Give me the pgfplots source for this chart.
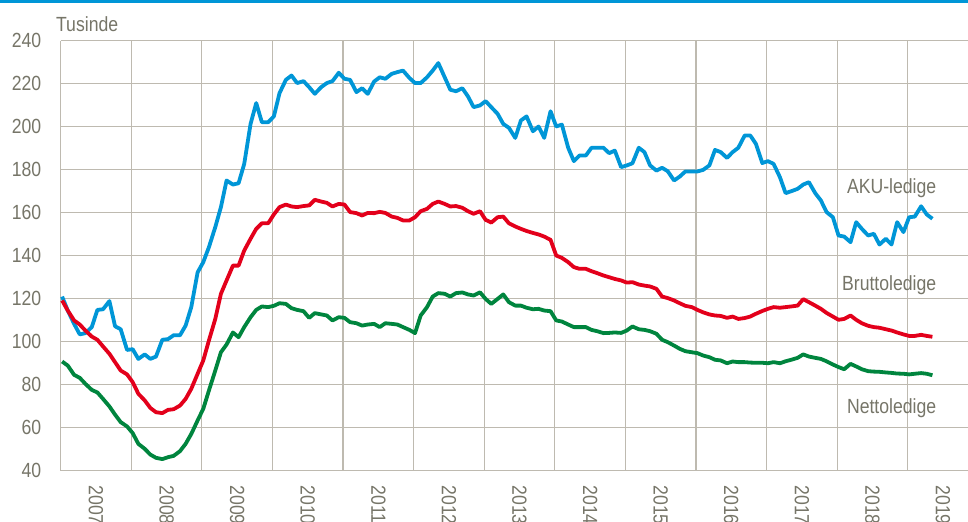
\documentclass[border=0pt]{standalone}
\usepackage{fontspec}
\setmainfont{Liberation Sans}[FakeStretch=0.86]
\usepackage{pgfplots}
\pgfplotsset{compat=1.18}
\usepackage{pgfplotstable}
\definecolor{akublue}{RGB}{0,150,215}
\definecolor{bruttored}{RGB}{227,0,27}
\definecolor{nettogreen}{RGB}{0,133,62}
\definecolor{gridgray}{RGB}{190,186,176}
\definecolor{txtgray}{RGB}{118,117,104}
\pgfplotstableread{
x aku brutto netto
2007.02 120.9 119.1 90.7
2007.10 114.4 114.4 88.8
2007.19 108.2 109.8 84.5
2007.27 103.3 107.9 83.1
2007.35 103.9 105.1 80.3
2007.44 106.7 102.3 77.5
2007.52 114.7 100.8 76.3
2007.60 115.0 97.7 73.3
2007.69 118.8 94.3 69.8
2007.77 107.1 90.4 66.0
2007.85 105.7 86.5 62.5
2007.94 96.1 84.7 60.5
2008.02 96.4 81.1 57.4
2008.10 91.9 75.7 52.4
2008.19 94.0 72.6 50.1
2008.27 91.9 69.1 47.4
2008.35 93.0 67.1 45.9
2008.44 100.8 66.7 45.3
2008.52 101.1 68.2 46.2
2008.60 102.9 68.5 46.8
2008.69 102.9 70.2 49.0
2008.77 107.4 73.3 52.4
2008.85 116.0 78.0 57.0
2008.94 132.2 85.0 63.3
2009.02 136.9 91.2 68.7
2009.10 143.9 100.5 77.2
2009.19 153.2 110.5 86.5
2009.27 162.5 122.2 95.0
2009.35 174.9 128.4 98.6
2009.44 173.0 135.3 104.2
2009.52 173.6 135.3 102.0
2009.60 182.6 142.3 106.7
2009.69 201.2 147.8 111.3
2009.77 210.9 152.4 114.7
2009.85 202.0 155.0 116.3
2009.94 202.0 155.0 116.0
2010.02 204.7 159.1 116.6
2010.10 215.5 162.5 117.8
2010.19 221.7 163.7 117.5
2010.27 223.7 162.8 115.5
2010.35 220.2 162.5 114.7
2010.44 221.1 163.0 114.1
2010.52 218.3 163.3 111.0
2010.60 215.2 165.9 113.2
2010.69 218.3 165.1 112.6
2010.77 220.2 164.5 112.1
2010.85 221.1 162.8 109.8
2010.94 225.0 164.0 111.3
2011.02 222.2 163.7 111.0
2011.10 221.7 160.2 109.0
2011.19 216.0 159.7 108.5
2011.27 217.8 158.6 107.4
2011.35 215.2 159.8 107.9
2011.44 220.9 159.7 108.2
2011.52 222.9 160.3 106.7
2011.60 222.2 159.8 108.5
2011.69 224.5 158.1 108.2
2011.77 225.3 157.5 107.9
2011.85 226.0 156.3 106.7
2011.94 222.6 156.3 105.4
2012.02 220.2 157.8 103.9
2012.10 220.2 160.6 112.1
2012.19 222.9 161.7 116.0
2012.27 226.0 164.0 120.9
2012.35 229.5 165.1 122.5
2012.44 222.9 164.0 122.2
2012.52 217.1 162.8 120.9
2012.60 216.4 163.0 122.5
2012.69 217.8 162.2 122.8
2012.77 214.0 160.6 121.9
2012.85 209.0 159.4 121.4
2012.94 209.8 160.6 122.9
2013.02 211.8 156.6 119.8
2013.10 209.0 155.3 117.5
2013.19 205.9 157.8 119.8
2013.27 201.2 158.1 121.9
2013.35 199.4 155.0 118.3
2013.44 194.7 153.5 116.7
2013.52 202.8 152.4 116.7
2013.60 204.7 151.4 115.7
2013.69 197.8 150.5 115.0
2013.77 200.0 149.8 115.2
2013.85 194.7 148.8 114.4
2013.94 207.1 147.3 114.1
2014.02 200.0 140.0 109.8
2014.10 200.9 138.9 109.3
2014.19 190.1 136.9 107.9
2014.27 183.9 134.6 106.7
2014.35 186.5 133.8 106.7
2014.44 186.5 133.8 106.7
2014.52 190.1 132.7 105.4
2014.60 190.1 131.8 104.8
2014.69 190.1 130.7 103.9
2014.77 187.6 129.9 104.0
2014.85 188.8 129.1 104.2
2014.94 181.1 128.4 104.0
2015.02 181.9 127.4 105.1
2015.10 182.9 127.6 107.0
2015.19 190.1 126.5 105.7
2015.27 188.1 126.0 105.4
2015.35 181.9 125.6 104.8
2015.44 179.5 124.5 103.6
2015.52 180.8 120.9 100.8
2015.60 179.2 120.2 99.7
2015.69 174.9 119.1 98.1
2015.77 176.7 117.8 96.6
2015.85 179.1 116.6 95.5
2015.94 179.1 116.0 95.0
2016.02 179.1 114.7 94.6
2016.10 179.8 113.6 93.5
2016.19 181.9 112.6 92.7
2016.27 189.1 112.1 91.5
2016.35 188.1 111.9 91.2
2016.44 185.4 111.0 89.9
2016.52 188.1 111.6 90.7
2016.60 190.1 110.5 90.4
2016.69 195.8 110.9 90.4
2016.77 195.8 111.6 90.2
2016.85 191.9 112.9 90.1
2016.94 183.0 114.2 90.1
2017.02 183.9 115.2 89.9
2017.10 182.6 116.0 90.4
2017.19 176.4 115.7 89.9
2017.27 169.0 116.0 90.8
2017.35 169.9 116.3 91.5
2017.44 171.0 116.7 92.4
2017.52 173.0 119.7 94.0
2017.60 174.1 118.3 93.0
2017.69 169.0 116.7 92.4
2017.77 165.6 115.2 91.9
2017.85 160.2 113.3 90.8
2017.94 157.8 111.6 89.3
2018.02 149.3 110.1 88.1
2018.10 148.8 110.5 87.1
2018.19 146.2 112.1 89.6
2018.27 155.5 110.1 88.4
2018.35 152.4 108.5 87.1
2018.44 149.3 107.3 86.2
2018.52 150.1 106.7 86.0
2018.60 145.1 106.4 85.9
2018.69 147.8 105.7 85.6
2018.77 145.1 105.1 85.4
2018.85 155.5 104.2 85.1
2018.94 150.9 103.3 85.0
2019.02 157.8 102.6 84.7
2019.10 158.1 102.6 85.0
2019.19 162.9 103.1 85.3
2019.27 159.1 102.6 85.0
2019.35 157.1 102.2 84.3
}\data
\begin{document}
\begin{tikzpicture}[font=\fontsize{10.25}{12}\selectfont]
\begin{axis}[
  at={(0,0)}, anchor=south west,
  width=453.5pt, height=215pt, scale only axis,
  xmin=2007, xmax=2019.85, ymin=40, ymax=240,
  axis lines=left,
  axis line style={gridgray, line width=0.6pt, -},
  ytick={40,60,...,240},
  xtick={2007.5,2008.5,...,2019.5},
  xticklabels={2007,2008,2009,2010,2011,2012,2013,2014,2015,2016,2017,2018,2019},
  minor xtick={2007,2008,...,2019},
  ymajorgrids, xminorgrids,
  grid style={gridgray, line width=0.6pt},
  minor grid style={gridgray, line width=0.6pt},
  major tick length=0pt, minor tick length=0pt,
  tick label style={txtgray, font=\fontsize{10.25}{12}\selectfont},
  yticklabel style={anchor=east, inner sep=0pt, xshift=-9.5pt},
  xticklabel style={inner sep=0pt, yshift=-7.25pt, rotate=-90, anchor=west},
  /pgf/number format/assume math mode=true,
  clip=false,
]
\addplot[akublue, line width=1.9pt, line join=round] table[x=x, y=aku] {\data};
\addplot[bruttored, line width=1.9pt, line join=round] table[x=x, y=brutto] {\data};
\addplot[nettogreen, line width=1.9pt, line join=round] table[x=x, y=netto] {\data};
\node[anchor=base east, inner sep=0pt, txtgray] at (axis cs:2019.41,168.75) {AKU-ledige};
\node[anchor=base east, inner sep=0pt, txtgray] at (axis cs:2019.41,123.7) {Bruttoledige};
\node[anchor=base east, inner sep=0pt, txtgray] at (axis cs:2019.41,66.6) {Nettoledige};
\end{axis}
\node[anchor=base west, inner sep=0pt, txtgray] at (-2.5pt,219.25pt) {Tusinde};
\fill[akublue] (-30.35pt,233.9pt) rectangle (453.65pt,235.25pt);
\pgfresetboundingbox
\useasboundingbox (-30.35pt,-25.25pt) rectangle (453.65pt,235.25pt);
\end{tikzpicture}
\end{document}
